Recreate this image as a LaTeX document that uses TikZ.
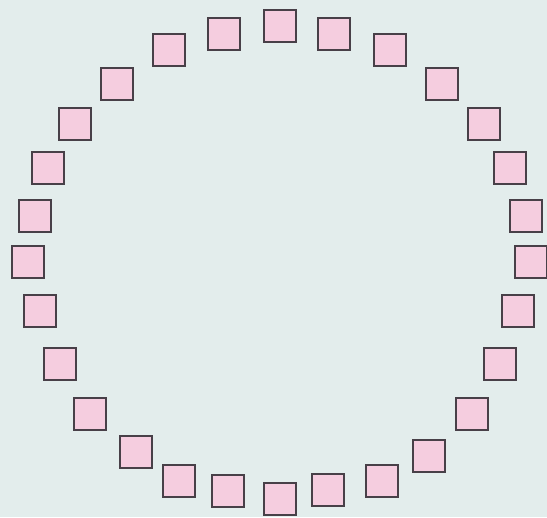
\documentclass[tikz,border=0pt]{standalone}
\usepackage{tikz}
\usetikzlibrary{positioning}
\definecolor{bgcol}{RGB}{227,237,236}
\definecolor{tilefill}{RGB}{245,205,223}
\definecolor{tileline}{RGB}{72,64,72}
\tikzset{
  tile/.style={draw=tileline, fill=tilefill, line width=1.1pt,
    minimum size=0.64cm, inner sep=0pt, outer sep=0pt},
}
\begin{document}
\begin{tikzpicture}[x=0.02cm, y=-0.02cm]
    \fill[bgcol] (0,0) rectangle (547,517);
    \useasboundingbox (0,0) rectangle (547,517);
    % ring of tiles, clockwise from the top
    \foreach \px/\py [count=\i] in {
      280/26, 334/34, 390/50, 442/84, 484/124, 510/168, 526/216, 531/262,
      518/311, 500/364, 472/414, 429/456, 382/481, 328/490, 280/499,
      228/491, 179/481, 136/452, 90/414, 60/364, 40/311, 28/262,
      35/216, 48/168, 75/124, 117/84, 169/50, 224/34}
      \node[tile] (t\i) at (\px,\py) {};
\end{tikzpicture}
\end{document}
